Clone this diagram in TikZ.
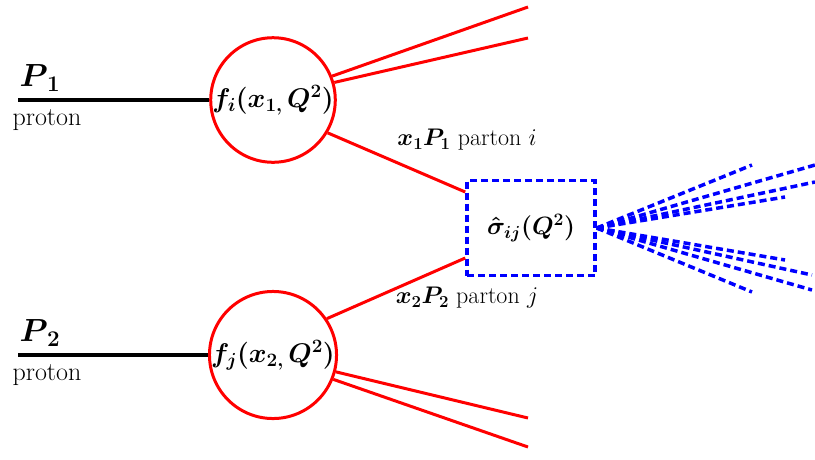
\RequirePackage{fix-cm}
\documentclass[tikz,border=0pt]{standalone}
\usepackage{bm}
\usetikzlibrary{positioning}

\begin{document}
\begin{tikzpicture}[x=1pt,y=-1pt,
  pdf/.style={circle,draw=red,line width=3pt,minimum size=124pt,inner sep=0pt,font=\fontsize{27}{30}\selectfont},
  hard/.style={rectangle,draw=blue,line width=3.5pt,dash pattern=on 7pt off 4pt,minimum width=128pt,minimum height=95pt,font=\fontsize{25}{28}\selectfont},
  beam/.style={line width=3.5pt,black},
  jet/.style={line width=3pt,red},
  shower/.style={line width=3.5pt,blue,dash pattern=on 7pt off 4pt},
  lbl/.style={font=\fontsize{24}{26}\selectfont,inner sep=1pt}]
\useasboundingbox (0,0) rectangle (815,459);
% proton 1
\node[pdf] (fi) at (273,100) {$\bm{f_i(x_{1,}\,Q^2)}$};
\coordinate (p1) at (18,100);
\draw[beam] (p1) -- (fi.west);
\node[font=\fontsize{32}{34}\selectfont] (P1) at (40,78) {$\bm{P_{\,1}}$};
\node[font=\fontsize{26}{28}\selectfont] (pr1) at (47,120) {proton};
% proton 2
\node[pdf] (fj) at (273,355) {$\bm{f_j(x_{2,}\,Q^2)}$};
\coordinate (p2) at (18,355);
\draw[beam] (p2) -- (fj.west);
\node[font=\fontsize{32}{34}\selectfont] (P2) at (40,333) {$\bm{P_{\,2}}$};
\node[font=\fontsize{26}{28}\selectfont] (pr2) at (47,375) {proton};
% hard process
\node[hard] (sig) at (531,228) {$\bm{\hat\sigma_{ij}(Q^2)}$};
\draw[jet] (fi.-31) -- (sig.west |- 0,192);
\draw[jet] (fj.34) -- (sig.west |- 0,258);
\node[lbl] (li) at (467,140) {$\bm{x_1P_1}$ parton $i$};
\node[lbl] (lj) at (467,298) {$\bm{x_2P_2}$ parton $j$};
% remnants
\coordinate (r1) at (528,7);
\coordinate (r2) at (528,38);
\coordinate (r3) at (528,418);
\coordinate (r4) at (528,447);
\draw[jet] (fi.22) -- (r1);
\draw[jet] (fi.16) -- (r2);
\draw[jet] (fj.-15) -- (r3);
\draw[jet] (fj.-22) -- (r4);
% final state
\foreach \x/\y [count=\k] in {752/165,815/165,815/182,785/197,785/260,812/275,812/290,752/292}
  {\coordinate (e\k) at (\x,\y);
   \draw[shower] (sig.east) -- (e\k);}
\end{tikzpicture}
\end{document}
